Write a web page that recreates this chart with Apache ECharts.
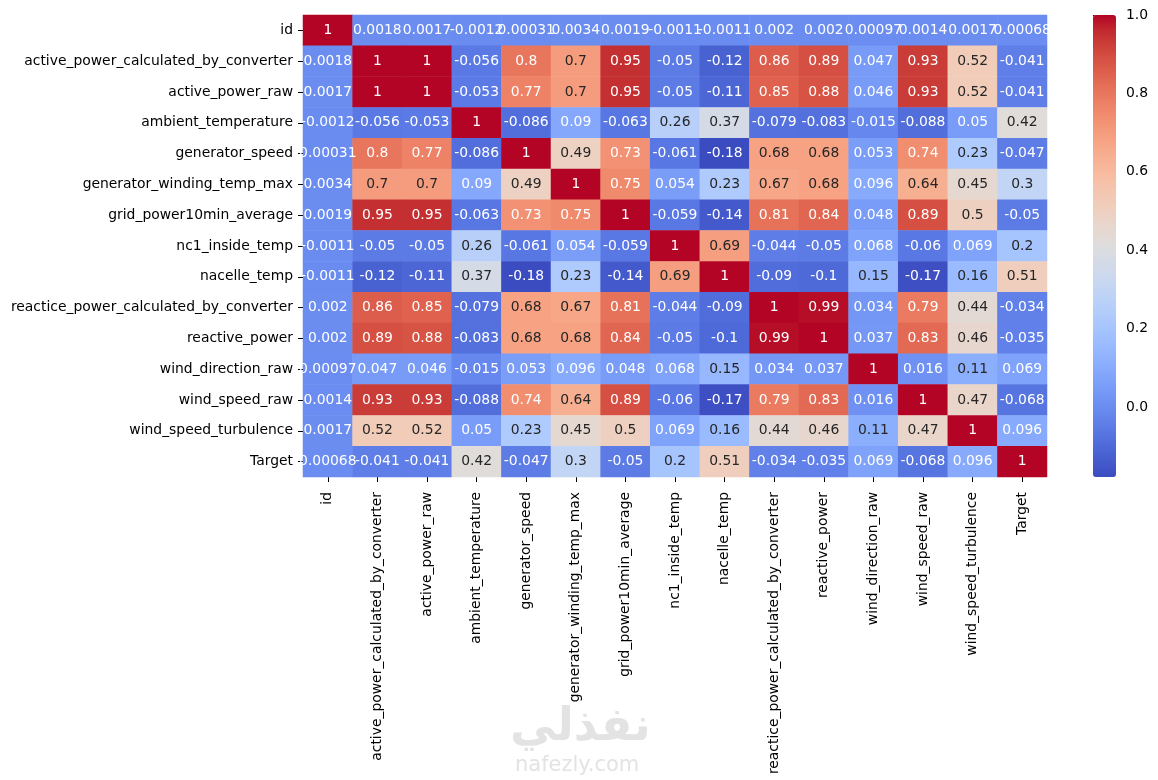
<!DOCTYPE html>
<html>
<head>
<meta charset="utf-8">
<script src="https://cdn.jsdelivr.net/npm/echarts@6/dist/echarts.min.js"></script>
<style>
html,body{margin:0;padding:0;background:#fff;}
#chart{width:1158px;height:780px;}
</style>
</head>
<body>
<div id="chart"></div>
<script>
var labels = ['id','active_power_calculated_by_converter','active_power_raw','ambient_temperature','generator_speed','generator_winding_temp_max','grid_power10min_average','nc1_inside_temp','nacelle_temp','reactice_power_calculated_by_converter','reactive_power','wind_direction_raw','wind_speed_raw','wind_speed_turbulence','Target'];

var row_id          = [1, 0.0018, 0.0017, -0.0012, 0.00031, 0.0034, 0.0019, -0.0011, -0.0011, 0.002, 0.002, 0.00097, 0.0014, 0.0017, 0.00068];
var row_apc         = [0.0018, 1, 1, -0.056, 0.8, 0.7, 0.95, -0.05, -0.12, 0.86, 0.89, 0.047, 0.93, 0.52, -0.041];
var row_apr         = [0.0017, 1, 1, -0.053, 0.77, 0.7, 0.95, -0.05, -0.11, 0.85, 0.88, 0.046, 0.93, 0.52, -0.041];
var row_ambient     = [-0.0012, -0.056, -0.053, 1, -0.086, 0.09, -0.063, 0.26, 0.37, -0.079, -0.083, -0.015, -0.088, 0.05, 0.42];
var row_genspeed    = [0.00031, 0.8, 0.77, -0.086, 1, 0.49, 0.73, -0.061, -0.18, 0.68, 0.68, 0.053, 0.74, 0.23, -0.047];
var row_genwind     = [0.0034, 0.7, 0.7, 0.09, 0.49, 1, 0.75, 0.054, 0.23, 0.67, 0.68, 0.096, 0.64, 0.45, 0.3];
var row_grid        = [0.0019, 0.95, 0.95, -0.063, 0.73, 0.75, 1, -0.059, -0.14, 0.81, 0.84, 0.048, 0.89, 0.5, -0.05];
var row_nc1         = [-0.0011, -0.05, -0.05, 0.26, -0.061, 0.054, -0.059, 1, 0.69, -0.044, -0.05, 0.068, -0.06, 0.069, 0.2];
var row_nacelle     = [-0.0011, -0.12, -0.11, 0.37, -0.18, 0.23, -0.14, 0.69, 1, -0.09, -0.1, 0.15, -0.17, 0.16, 0.51];
var row_rpc         = [0.002, 0.86, 0.85, -0.079, 0.68, 0.67, 0.81, -0.044, -0.09, 1, 0.99, 0.034, 0.79, 0.44, -0.034];
var row_rp          = [0.002, 0.89, 0.88, -0.083, 0.68, 0.68, 0.84, -0.05, -0.1, 0.99, 1, 0.037, 0.83, 0.46, -0.035];
var row_winddir     = [0.00097, 0.047, 0.046, -0.015, 0.053, 0.096, 0.048, 0.068, 0.15, 0.034, 0.037, 1, 0.016, 0.11, 0.069];
var row_windspeed   = [0.0014, 0.93, 0.93, -0.088, 0.74, 0.64, 0.89, -0.06, -0.17, 0.79, 0.83, 0.016, 1, 0.47, -0.068];
var row_turb        = [0.0017, 0.52, 0.52, 0.05, 0.23, 0.45, 0.5, 0.069, 0.16, 0.44, 0.46, 0.11, 0.47, 1, 0.096];
var row_target      = [0.00068, -0.041, -0.041, 0.42, -0.047, 0.3, -0.05, 0.2, 0.51, -0.034, -0.035, 0.069, -0.068, 0.096, 1];

var colorbarTicks = [0, 0.2, 0.4, 0.6, 0.8, 1.0];
var vMin = -0.178, vMax = 1;

var rows = [row_id,row_apc,row_apr,row_ambient,row_genspeed,row_genwind,row_grid,row_nc1,row_nacelle,row_rpc,row_rp,row_winddir,row_windspeed,row_turb,row_target];

// matplotlib coolwarm stops
var cw = [[59,76,192],[68,90,204],[77,104,215],[87,117,225],[98,130,234],[108,142,241],[119,154,247],[130,165,251],[141,176,254],[152,185,255],[163,194,255],[174,201,253],[184,208,249],[194,213,244],[204,217,238],[213,219,230],[221,221,221],[229,216,209],[236,211,197],[241,204,185],[245,196,173],[247,187,160],[247,177,148],[247,166,135],[244,154,123],[241,141,111],[236,127,99],[229,112,88],[222,96,77],[213,80,66],[203,62,56],[192,40,47],[180,4,38]];
function toHex(c){return '#'+c.map(function(v){var h=Math.round(v).toString(16);return h.length<2?'0'+h:h;}).join('');}
var cwHex = cw.map(toHex);
function cmap(t){
  t=Math.max(0,Math.min(1,t));
  var idx=Math.min(255,Math.floor(t*256));
  t=idx/255;
  var p=t*(cw.length-1), i=Math.floor(p); if(i>=cw.length-1) return cw[cw.length-1];
  var f=p-i, a=cw[i], b=cw[i+1];
  return [a[0]+(b[0]-a[0])*f,a[1]+(b[1]-a[1])*f,a[2]+(b[2]-a[2])*f];
}
function lum(c){
  var l=c.map(function(v){v/=255;return v<=0.03928?v/12.92:Math.pow((v+0.055)/1.055,2.4);});
  return 0.2126*l[0]+0.7152*l[1]+0.0722*l[2];
}

var data=[];
rows.forEach(function(r,yi){
  r.forEach(function(v,xi){
    var c=cmap((v-vMin)/(vMax-vMin));
    data.push({value:[xi,yi,v],label:{color: lum(c)>0.408?'#262626':'#ffffff'}});
  });
});

var font='DejaVu Sans';
var chart=echarts.init(document.getElementById('chart'));
chart.setOption({
  backgroundColor:'#fff',
  animation:false,
  textStyle:{fontFamily:font},
  grid:[
    {left:303,top:15,width:744,height:462},
    {left:1093,top:15,width:23,height:462}
  ],
  xAxis:[
    {type:'category',data:labels,gridIndex:0,
     axisLine:{show:false},splitLine:{show:false},
     axisTick:{show:true,alignWithLabel:true,length:5,lineStyle:{color:'#000',width:1}},
     axisLabel:{rotate:90,margin:15,fontSize:13.9,color:'#000',fontFamily:font,interval:0}},
    {type:'value',gridIndex:1,show:false,min:0,max:1}
  ],
  yAxis:[
    {type:'category',data:labels,inverse:true,gridIndex:0,
     axisLine:{show:false},splitLine:{show:false},
     axisTick:{show:true,alignWithLabel:true,length:5,lineStyle:{color:'#000',width:1}},
     axisLabel:{margin:10,fontSize:13.9,color:'#000',fontFamily:font,interval:0}},
    {type:'value',gridIndex:1,position:'right',min:vMin,max:vMax,
     axisLine:{show:false},splitLine:{show:false},
     axisTick:{show:true,length:5,customValues:colorbarTicks,lineStyle:{color:'#000'}},
     axisLabel:{margin:10,fontSize:13.9,color:'#000',fontFamily:font,customValues:colorbarTicks,
       formatter:function(v){return v.toFixed(1);}}}
  ],
  visualMap:{
    type:'continuous',min:vMin,max:vMax,calculable:false,
    orient:'vertical',left:1093,top:15,itemWidth:23,itemHeight:462,padding:0,
    text:null,showLabel:false,seriesIndex:0,
    inRange:{color:cwHex}
  },
  series:[{
    type:'heatmap',xAxisIndex:0,yAxisIndex:0,data:data,
    label:{show:true,fontSize:13.9,fontFamily:font,
      formatter:function(p){return String(Number(p.value[2].toPrecision(2)));}},
    itemStyle:{borderWidth:0},
    emphasis:{disabled:true}
  }],
  graphic:[
    {type:'text',left:510,top:705,style:{text:'نفذلي',fontSize:46,fontWeight:'bold',fontFamily:font,fill:'#e3e3e3'}},
    {type:'text',left:515,top:755,style:{text:'nafezly.com',fontSize:21,fontFamily:font,fill:'#e3e3e3'}}
  ]
});
</script>
</body>
</html>
